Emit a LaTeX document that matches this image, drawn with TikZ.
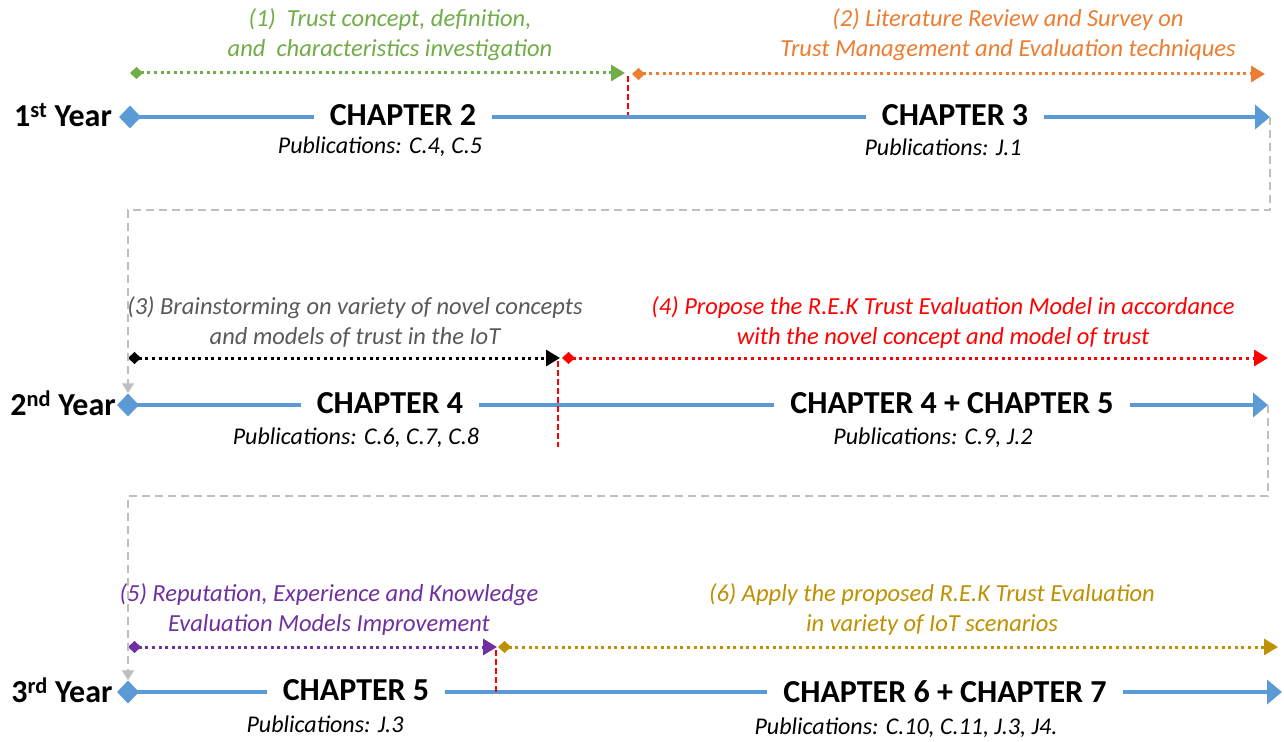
\documentclass[tikz,border=0pt]{standalone}
\usepackage{fontspec}
\setmainfont{Carlito}
\usetikzlibrary{arrows.meta,shapes.geometric}
\definecolor{tlblue}{HTML}{5B9BD5}
\definecolor{tlgreen}{HTML}{70AD47}
\definecolor{tlorange}{HTML}{ED7D31}
\definecolor{tlred}{HTML}{FF0000}
\definecolor{tlgrey}{HTML}{595959}
\definecolor{tlpurple}{HTML}{7030A0}
\definecolor{tlgold}{HTML}{BF9000}
\definecolor{tllink}{HTML}{BFBFBF}
\begin{document}
\begin{tikzpicture}[x=1pt,y=-1pt,
  yearlabel/.style={font=\fontsize{32}{36}\selectfont\bfseries, inner sep=0pt},
  startmark/.style={diamond, fill=tlblue, inner sep=0pt, minimum width=22pt, minimum height=23pt},
  timeline/.style={draw=tlblue, line width=4.5pt, -{Triangle[length=15pt,width=24pt]}},
  chapbox/.style={font=\fontsize{32}{36}\selectfont\bfseries, fill=white, inner xsep=16pt, inner ysep=3pt},
  pubs/.style={font=\fontsize{24}{28}\selectfont\itshape, inner sep=0pt},
  task/.style={font=\fontsize{24.5}{30}\selectfont\itshape, align=center, inner sep=0pt},
  taskline/.style={line width=3pt, dash pattern=on 3pt off 3.6pt,
    {Diamond[length=13pt,width=12pt]}-{Triangle[length=14pt,width=16pt]}},
  splitline/.style={draw=tlred, line width=1.8pt, dash pattern=on 6pt off 3pt},
  link/.style={draw=tllink, line width=1.4pt, dash pattern=on 8pt off 5pt,
    -{Triangle[length=10pt,width=12pt]}}]
\useasboundingbox[fill=white] (0,0) rectangle (1284,741);

% ---------------- first year ----------------
\node[yearlabel] (y1) at (63,115) {1\textsuperscript{st} Year};
\node[startmark] (s1) at (130,117) {};
\coordinate (e1) at (1270,117);
\draw[timeline] (s1.center) -- (e1);
\node[chapbox] (c2) at (403,115) {CHAPTER 2};
\node[chapbox] (c3) at (955,115) {CHAPTER 3};
\node[pubs] (p1) at (380,147) {Publications: C.4, C.5};
\node[pubs] (p2) at (943,147) {Publications: J.1};

\coordinate (a1) at (130,73);
\coordinate (a2) at (625,73);
\coordinate (b1) at (632,74);
\coordinate (b2) at (1265,74);
\draw[taskline, tlgreen] (a1) -- (a2);
\draw[taskline, tlorange] (b1) -- (b2);
\coordinate (r1a) at (628,76);
\coordinate (r1b) at (628,115);
\draw[splitline] (r1a) -- (r1b);
\node[task, text=tlgreen] (t1) at (390,35) {(1)~~Trust concept, definition,\\and~~characteristics investigation};
\node[task, text=tlorange] (t2) at (1008,35) {(2) Literature Review and Survey on\\Trust Management and Evaluation techniques};

% ---------------- second year ----------------
\node[yearlabel] (y2) at (63,403) {2\textsuperscript{nd} Year};
\node[startmark] (s2) at (128,405) {};
\coordinate (e2) at (1268,405);
\draw[timeline] (s2.center) -- (e2);
\node[chapbox] (c4) at (390,403) {CHAPTER 4};
\node[chapbox] (c45) at (952,403) {CHAPTER 4 + CHAPTER 5};
\node[pubs] (p3) at (356,438) {Publications: C.6, C.7, C.8};
\node[pubs] (p4) at (933,438) {Publications: C.9, J.2};

\coordinate (a3) at (128,358);
\coordinate (a4) at (560,358);
\coordinate (b3) at (562,358);
\coordinate (b4) at (1268,358);
\draw[taskline, black] (a3) -- (a4);
\draw[taskline, tlred] (b3) -- (b4);
\coordinate (r2a) at (558,361);
\coordinate (r2b) at (558,447);
\draw[splitline] (r2a) -- (r2b);
\node[task, text=tlgrey] (t3) at (355,322) {(3) Brainstorming on variety of novel concepts\\and models of trust in the IoT};
\node[task, text=tlred] (t4) at (943,323) {(4) Propose the R.E.K Trust Evaluation Model in accordance\\with the novel concept and model of trust};

% ---------------- third year ----------------
\node[yearlabel] (y3) at (62,690) {3\textsuperscript{rd} Year};
\node[startmark] (s3) at (128,692) {};
\coordinate (e3) at (1282,692);
\draw[timeline] (s3.center) -- (e3);
\node[chapbox] (c5) at (356,690) {CHAPTER 5};
\node[chapbox] (c67) at (945,692) {CHAPTER 6 + CHAPTER 7};
\node[pubs] (p5) at (325,724) {Publications: J.3};
\node[pubs] (p6) at (906,728) {Publications: C.10, C.11, J.3, J4.};

\coordinate (a5) at (128,647);
\coordinate (a6) at (497,647);
\coordinate (b5) at (498,647);
\coordinate (b6) at (1278,647);
\draw[taskline, tlpurple] (a5) -- (a6);
\draw[taskline, tlgold] (b5) -- (b6);
\coordinate (r3a) at (496,650);
\coordinate (r3b) at (496,692);
\draw[splitline] (r3a) -- (r3b);
\node[task, text=tlpurple] (t5) at (329,610) {(5) Reputation, Experience and Knowledge\\Evaluation Models Improvement};
\node[task, text=tlgold] (t6) at (932,610) {(6) Apply the proposed R.E.K Trust Evaluation\\in variety of IoT scenarios};

% ---------------- year-to-year links ----------------
\draw[link] (e1) -- ++(0,93) -| (s2.north);
\draw[link] (e2) -- ++(0,91) -| (s3.north);
\end{tikzpicture}
\end{document}
